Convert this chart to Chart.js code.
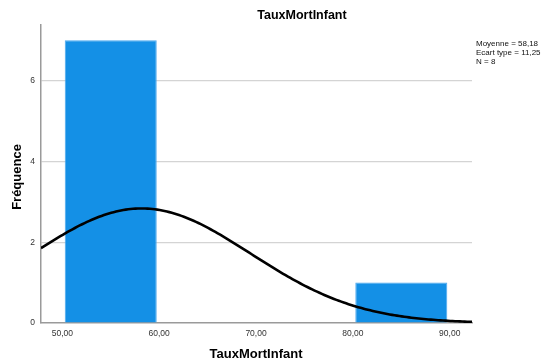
<!DOCTYPE html>
<html>
<head>
<meta charset="utf-8">
<script src="https://cdn.jsdelivr.net/npm/chart.js@4/dist/chart.umd.min.js"></script>
<style>
  html, body { margin: 0; padding: 0; background: #fff; }
  #wrap { width: 544px; height: 364px; position: relative; }
</style>
</head>
<body>
<div id="wrap"><canvas id="c" width="544" height="364"></canvas></div>
<script>
// Histogram of TauxMortInfant with fitted normal curve
const binStarts = [50, 60, 70, 80];
const binWidth = 10;
const counts = [7, 0, 0, 1];
const xTicks = [50, 60, 70, 80, 90];
const yTicks = [0, 2, 4, 6];
const statMean = 58.18;
const statSd = 11.25;
const statN = 8;
const statLines = ['Moyenne = 58,18', 'Ecart type = 11,25', 'N = 8'];
const chartTitle = 'TauxMortInfant';
const xTitle = 'TauxMortInfant';
const yTitle = 'Fréquence';

const X_MIN = 47.8, X_MAX = 92.3, Y_MAX = 7.38;

const barData = binStarts.map((s, i) => ({ x: s + binWidth / 2, y: counts[i] }));

// Normal density scaled to frequency: N * binWidth * pdf(x)
const curveData = [];
for (let i = 0; i <= 178; i++) {
  const x = X_MIN + (X_MAX - X_MIN) * i / 178;
  const z = (x - statMean) / statSd;
  const y = statN * binWidth * Math.exp(-0.5 * z * z) / (statSd * Math.sqrt(2 * Math.PI));
  curveData.push({ x, y });
}

const FONT = '"Liberation Sans", Arial, sans-serif';
const fmt = v => v.toFixed(2).replace('.', ',');

const textPlugin = {
  id: 'texts',
  afterDraw(chart) {
    const ctx = chart.ctx;
    ctx.save();
    ctx.fillStyle = '#000';
    ctx.textAlign = 'center';
    ctx.textBaseline = 'middle';
    ctx.font = 'bold 12.5px ' + FONT;
    ctx.fillText(chartTitle, 302, 16);
    ctx.font = 'bold 13px ' + FONT;
    ctx.fillText(xTitle, 256, 354);
    ctx.save();
    ctx.translate(17, 177);
    ctx.rotate(-Math.PI / 2);
    ctx.fillText(yTitle, 0, 0);
    ctx.restore();
    ctx.font = '8px ' + FONT;
    ctx.textAlign = 'left';
    ctx.fillStyle = '#111';
    statLines.forEach((t, i) => ctx.fillText(t, 476, 44 + i * 9));
    ctx.restore();
  }
};

new Chart(document.getElementById('c'), {
  type: 'bar',
  data: {
    datasets: [
      {
        type: 'line',
        data: curveData,
        borderColor: '#000',
        borderWidth: 2.6,
        pointRadius: 0,
        tension: 0,
        fill: false,
        order: 1
      },
      {
        type: 'bar',
        data: barData,
        backgroundColor: '#1490e6',
        borderColor: '#4aa8ef',
        borderWidth: 1,
        barPercentage: 0.95,
        categoryPercentage: 1,
        order: 2
      }
    ]
  },
  plugins: [textPlugin],
  options: {
    responsive: false,
    animation: false,
    layout: { padding: { left: 0, top: 25, right: 72, bottom: 0 } },
    plugins: { legend: { display: false }, tooltip: { enabled: false }, title: { display: false } },
    scales: {
      x: {
        type: 'linear',
        min: X_MIN,
        max: X_MAX,
        offset: false,
        afterBuildTicks: s => { s.ticks = xTicks.map(v => ({ value: v })); },
        afterFit: s => { s.height = 41; },
        grid: { display: false, drawTicks: false },
        border: { display: true, color: '#9a9a9a', width: 1.5 },
        ticks: {
          padding: 6,
          color: '#333',
          font: { family: FONT, size: 8.5 },
          maxRotation: 0,
          autoSkip: false,
          callback: v => fmt(v)
        }
      },
      y: {
        type: 'linear',
        min: 0,
        max: Y_MAX,
        afterBuildTicks: s => { s.ticks = yTicks.map(v => ({ value: v })); },
        afterFit: s => { s.width = 41; },
        grid: {
          drawTicks: false,
          color: ctx => (ctx.tick && ctx.tick.value === 0) ? 'rgba(0,0,0,0)' : '#d4d4d4',
          lineWidth: 1.2
        },
        border: { display: true, color: '#9a9a9a', width: 1.5 },
        ticks: {
          padding: 6,
          color: '#333',
          font: { family: FONT, size: 8.5 },
          autoSkip: false,
          callback: v => String(v)
        }
      }
    }
  }
});
</script>
</body>
</html>
